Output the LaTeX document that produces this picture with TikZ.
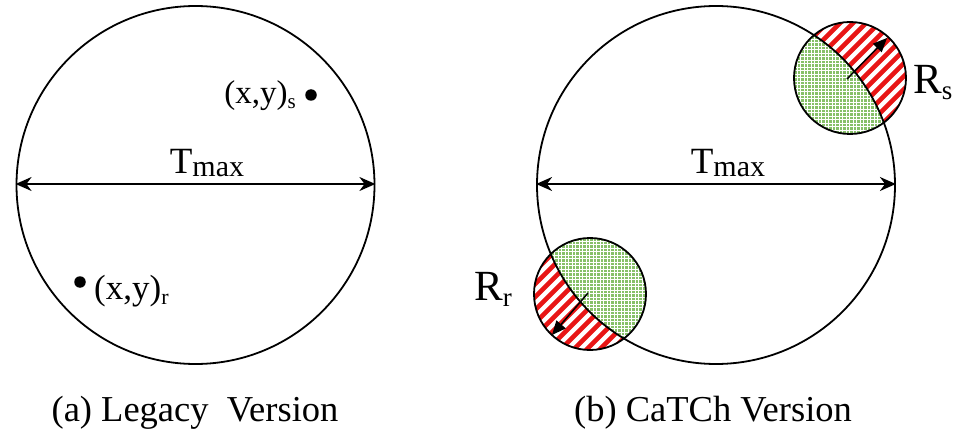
\documentclass[tikz,border=0pt]{standalone}
\usepackage{fontspec}
\setmainfont{Liberation Serif}
\usetikzlibrary{arrows.meta}
\definecolor{greenfill}{RGB}{135,192,105}
\definecolor{stripered}{RGB}{232,22,22}
\tikzset{
  bigcirc/.style={circle,draw=black,line width=1.8pt,minimum size=358pt,inner sep=0pt},
  smallcirc/.style={circle,draw=black,line width=1.8pt,minimum size=112pt,inner sep=0pt},
  dimarrow/.style={line width=1.8pt,{Stealth[length=16pt,width=14pt]}-{Stealth[length=16pt,width=14pt]}},
  radarrow/.style={line width=1.5pt,-{Triangle[length=14pt,width=12pt]}},
  lbl/.style={inner sep=0pt,anchor=base},
  dotnode/.style={circle,fill=black,inner sep=0pt,minimum size=11.5pt},
}
\newcommand{\hatchstripes}[1]{%
  \foreach \c in {-143,-130,...,143} {
    \draw[stripered,line width=4.6pt] ([shift={(\c/2-100,\c/2+100)}]#1) -- ([shift={(\c/2+100,\c/2-100)}]#1);
  }}
\newcommand{\greendots}[1]{%
  \fill[greenfill] (#1) circle[radius=60];
  \foreach \k in {-60,-56.5,...,60} {
    \draw[white,line width=0.7pt] ([shift={(\k,-60)}]#1) -- ([shift={(\k,60)}]#1);
    \draw[white,line width=0.7pt] ([shift={(-60,\k)}]#1) -- ([shift={(60,\k)}]#1);
  }}
\begin{document}
\begin{tikzpicture}[x=1pt,y=-1pt]
\useasboundingbox (0,0) rectangle (956,433);
\coordinate (LC) at (195.5,185);
\coordinate (RC) at (716,185);
\coordinate (SC) at (850,78);
\coordinate (QC) at (590,294);

% --- fills of the small circles
\begin{scope}
  \clip (SC) circle[radius=56];
  \fill[white] (SC) circle[radius=56];
  \hatchstripes{SC}
  \clip (RC) circle[radius=179];
  \greendots{SC}
\end{scope}
\begin{scope}
  \clip (QC) circle[radius=56];
  \fill[white] (QC) circle[radius=56];
  \hatchstripes{QC}
  \clip (RC) circle[radius=179];
  \greendots{QC}
\end{scope}

% --- big circles
\node[bigcirc] (L) at (LC) {};
\node[bigcirc] (R) at (RC) {};

% --- small circles
\node[smallcirc] (S) at (SC) {};
\node[smallcirc] (Q) at (QC) {};

% --- dimension arrows
\draw[dimarrow] (L.west |- 0,184) -- (L.east |- 0,184);
\draw[dimarrow] (R.west |- 0,184) -- (R.east |- 0,184);

\node[lbl] (tl) at (207,174) {\fontsize{37}{40}\selectfont T\raisebox{-3pt}{\fontsize{30}{32}\selectfont max}};
\node[lbl] (tr) at (728,174) {\fontsize{37}{40}\selectfont T\raisebox{-3pt}{\fontsize{30}{32}\selectfont max}};

% --- points in legacy version
\node[dotnode] (ps) at (311,95) {};
\node[lbl,anchor=base east] (pstext) at (296,104) {\fontsize{33}{36}\selectfont (x,y)\raisebox{-5pt}{\fontsize{21}{22}\selectfont s}};
\node[dotnode] (pr) at (80,282) {};
\node[lbl,anchor=base west] (prtext) at (94,299) {\fontsize{35}{38}\selectfont (x,y)\raisebox{-5pt}{\fontsize{22}{24}\selectfont r}};

% --- radius arrows
\coordinate (sa) at (847,79);
\coordinate (sb) at (887,38);
\draw[radarrow] (sa) -- (sb);
\coordinate (qa) at (588,293);
\coordinate (qb) at (552,335);
\draw[radarrow] (qa) -- (qb);

\node[lbl,anchor=base west] (rs) at (913,94) {\fontsize{43}{46}\selectfont R\raisebox{-6pt}{\fontsize{27}{28}\selectfont s}};
\node[lbl,anchor=base west] (rr) at (474,300) {\fontsize{43}{46}\selectfont R\raisebox{-6pt}{\fontsize{27}{28}\selectfont r}};

% --- captions
\node[lbl] (ca) at (195,421) {\fontsize{36.5}{40}\selectfont (a) Legacy\ \ Version};
\node[lbl] (cb) at (713,421) {\fontsize{36.5}{40}\selectfont (b) CaTCh Version};
\end{tikzpicture}
\end{document}
